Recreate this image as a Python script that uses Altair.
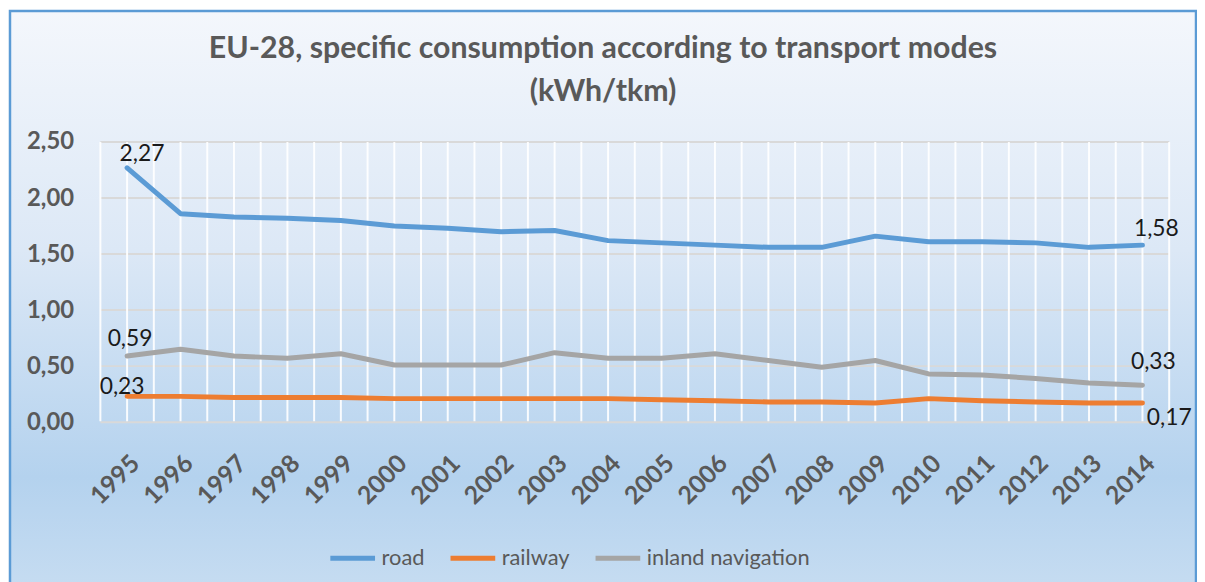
import altair as alt
import pandas as pd

years = list(range(1995, 2015))
road = [2.27, 1.86, 1.83, 1.82, 1.80, 1.75, 1.73, 1.70, 1.71, 1.62, 1.60, 1.58, 1.56, 1.56, 1.66, 1.61, 1.61, 1.60, 1.56, 1.58]
railway = [0.23, 0.23, 0.22, 0.22, 0.22, 0.21, 0.21, 0.21, 0.21, 0.21, 0.20, 0.19, 0.18, 0.18, 0.17, 0.21, 0.19, 0.18, 0.17, 0.17]
inland = [0.59, 0.65, 0.59, 0.57, 0.61, 0.51, 0.51, 0.51, 0.62, 0.57, 0.57, 0.61, 0.55, 0.49, 0.55, 0.43, 0.42, 0.39, 0.35, 0.33]
series_names = ["road", "railway", "inland navigation"]
series_colors = ["#5B9BD5", "#ED7D31", "#A5A5A5"]
y_ticks = [0.0, 0.5, 1.0, 1.5, 2.0, 2.5]
x_grid = [1994.5 + 0.5 * i for i in range(41)]
title_lines = ["EU-28, specific consumption according to transport modes", "(kWh/tkm)"]

rows = []
for name, vals in zip(series_names, [road, railway, inland]):
    for yr, v in zip(years, vals):
        rows.append({"year": yr, "value": v, "mode": name})
df = pd.DataFrame(rows)

def lab(v):
    return f"{v:.2f}".replace(".", ",")

FONT = "Lato"
W, H = 1076, 282

xscale = alt.Scale(domain=[1994.5, 2014.5], nice=False, zero=False)
yscale = alt.Scale(domain=[0, 2.5], nice=False)

bg = alt.Chart(alt.Data(values=[{}])).mark_rect(
    fill={"gradient": "linear", "x1": 0, "y1": 0, "x2": 0, "y2": 1,
          "stops": [{"offset": 0, "color": "#F4F7FC"},
                    {"offset": 0.4, "color": "#DCE8F6"},
                    {"offset": 0.78, "color": "#B4D2EE"},
                    {"offset": 1, "color": "#C9DEF2"}]},
    stroke="#5B9BD5", strokeWidth=2.5
).encode(x=alt.value(-91), x2=alt.value(1103), y=alt.value(-132), y2=alt.value(470))

title_layers = []
for i, t in enumerate(title_lines):
    title_layers.append(
        alt.Chart(alt.Data(values=[{"t": t}])).mark_text(
            font=FONT, fontSize=30.5, fontWeight="bold", color="#595959",
            align="center", baseline="alphabetic"
        ).encode(text="t:N", x=alt.value(506), y=alt.value(-85 + 44 * i))
    )

hgrid = alt.Chart(pd.DataFrame({"v": y_ticks})).mark_rule(
    color="#D9D9D9", strokeWidth=2
).encode(y=alt.Y("v:Q", scale=yscale), x=alt.value(0), x2=alt.value(W))

vgrid = alt.Chart(pd.DataFrame({"g": x_grid})).mark_rule(
    color="#FFFFFF", strokeWidth=2, opacity=0.9
).encode(x=alt.X("g:Q", scale=xscale), y=alt.value(0), y2=alt.value(H - 1))

lines = alt.Chart(df).mark_line(strokeWidth=5, strokeCap="round", strokeJoin="round").encode(
    x=alt.X("year:Q", scale=xscale,
            axis=alt.Axis(values=years, labelExpr="toString(datum.value)",
                          labelAngle=315, labelAlign="right", labelBaseline="middle",
                          labelFont=FONT, labelFontSize=25, labelFontWeight="bold",
                          labelColor="#595959", labelPadding=37, labelOffset=8, ticks=False,
                          domain=False, grid=False,
                          labelOverlap=False, title=None, zindex=1)),
    y=alt.Y("value:Q", scale=yscale,
            axis=alt.Axis(values=y_ticks, labelExpr="replace(format(datum.value, '.2f'), '.', ',')",
                          labelFont=FONT, labelFontSize=24, labelFontWeight="bold",
                          labelColor="#595959", labelPadding=27, ticks=False,
                          domain=False, grid=False, title=None, zindex=1)),
    color=alt.Color("mode:N", scale=alt.Scale(domain=series_names, range=series_colors),
                    sort=series_names,
                    legend=alt.Legend(title=None, orient="none", direction="horizontal",
                                      legendX=229, legendY=394, symbolType="stroke",
                                      symbolSize=2025, symbolStrokeWidth=5,
                                      labelFont=FONT, labelFontSize=22, labelColor="#595959",
                                      labelOffset=4, labelLimit=400, columnPadding=15, zindex=1)),
    order="year:Q",
)

label_specs = [
    ("road", 0, 15, -2, "bottom"),
    ("inland navigation", 0, 3, -5, "bottom"),
    ("railway", 0, -5, 3, "bottom"),
    ("road", -1, 14, -4, "bottom"),
    ("inland navigation", -1, 11, -11, "bottom"),
    ("railway", -1, 27, 4, "top"),
]
series_map = {"road": road, "railway": railway, "inland navigation": inland}
label_layers = []
for name, idx, dx, dy, base in label_specs:
    v = series_map[name][idx]
    d = pd.DataFrame({"year": [years[idx]], "value": [v], "label": [lab(v)]})
    label_layers.append(
        alt.Chart(d).mark_text(font=FONT, fontSize=23, color="#1A1A1A", dx=dx, dy=dy,
                               baseline=base, align="center").encode(
            x=alt.X("year:Q", scale=xscale), y=alt.Y("value:Q", scale=yscale), text="label:N")
    )

chart = alt.layer(bg, *title_layers, hgrid, vgrid, lines, *label_layers).properties(
    width=W, height=H,
    autosize=alt.AutoSizeParams(type="none"),
    padding={"left": 93, "top": 133, "right": 28, "bottom": 159},
).configure_view(stroke=None).configure(background="white")

chart.save("out.html", embed_options={"renderer": "svg", "actions": False})
